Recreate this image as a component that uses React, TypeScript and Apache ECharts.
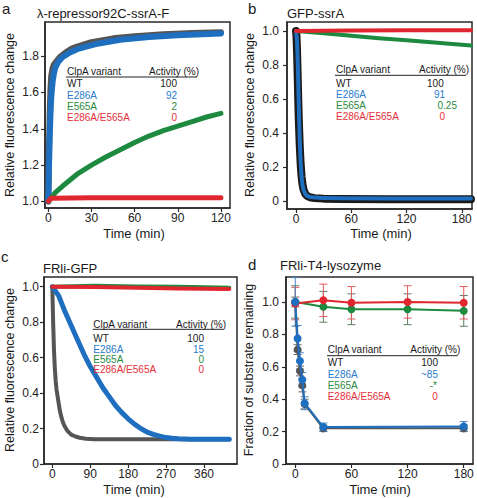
import React, { useEffect, useRef } from 'react';
import * as echarts from 'echarts';

const FONT = "'Liberation Sans', Arial, Helvetica, sans-serif";
const C_GRAY = '#555555';
const C_BLACK = '#1a1a1a';
const C_BLUE = '#1f6fc0';
const C_GREEN = '#1d8a3f';
const C_RED = '#e0262e';
const T_BLUE = '#2a7bcc';
const T_GREEN = '#2b8a3e';
const T_RED = '#e4313a';

// ---------- Panel a : λ-repressor92C-ssrA-F ----------
const aWT_t = [0, 0.5, 1, 1.5, 2, 3, 4, 6, 8, 12, 16, 20, 30, 45, 60, 80, 100, 120];
const aWT_v = [1.0, 1.3, 1.5, 1.62, 1.69, 1.735, 1.755, 1.775, 1.795, 1.82, 1.84, 1.853, 1.877, 1.898, 1.91, 1.92, 1.927, 1.932];
const aE286A_t = [0, 0.5, 1, 1.5, 2, 3, 4, 5, 7, 10, 15, 20, 25, 35, 50, 70, 90, 120];
const aE286A_v = [1.0, 1.2, 1.36, 1.48, 1.57, 1.66, 1.71, 1.74, 1.77, 1.795, 1.82, 1.838, 1.85, 1.87, 1.89, 1.905, 1.915, 1.925];
const aE565A_t = [0, 5, 10, 20, 30, 40, 50, 60, 70, 80, 90, 100, 110, 120];
const aE565A_v = [1.0, 1.05, 1.085, 1.15, 1.2, 1.245, 1.285, 1.325, 1.36, 1.39, 1.415, 1.44, 1.465, 1.485];
const aDbl_t = [0, 2, 30, 60, 90, 120];
const aDbl_v = [1.0, 1.018, 1.02, 1.02, 1.02, 1.02];
const aActivity = ['100', '92', '2', '0'];

// ---------- Panel b : GFP-ssrA ----------
const bWT_t = [0, 0.5, 1, 1.5, 2, 2.5, 3, 4, 5, 6, 7, 8, 10, 12, 15, 20, 30, 50, 100, 190];
const bWT_v = [1.0, 0.97, 0.9, 0.8, 0.69, 0.58, 0.48, 0.33, 0.22, 0.145, 0.1, 0.07, 0.042, 0.03, 0.022, 0.017, 0.014, 0.012, 0.01, 0.01];
const bE286A_t = [0, 1, 1.5, 2, 2.5, 3, 3.5, 4, 5, 6, 7, 8, 10, 12, 15, 20, 30, 50, 100, 190];
const bE286A_v = [1.0, 0.95, 0.88, 0.79, 0.68, 0.57, 0.46, 0.37, 0.23, 0.145, 0.095, 0.068, 0.042, 0.03, 0.024, 0.02, 0.018, 0.016, 0.015, 0.015];
const bE565A_t = [0, 30, 60, 90, 120, 150, 190];
const bE565A_v = [1.0, 0.987, 0.972, 0.958, 0.945, 0.932, 0.915];
const bDbl_t = [0, 60, 120, 190];
const bDbl_v = [1.0, 1.003, 1.005, 1.005];
const bActivity = ['100', '91', '0.25', '0'];

// ---------- Panel c : FRli-GFP ----------
const cWT_t = [0, 1, 2, 3, 4, 6, 8, 10, 14, 18, 22, 26, 30, 35, 40, 46, 55, 65, 80, 100, 200, 300, 420];
const cWT_v = [1.0, 0.9, 0.8, 0.72, 0.64, 0.54, 0.47, 0.42, 0.36, 0.3, 0.26, 0.23, 0.21, 0.19, 0.177, 0.164, 0.155, 0.148, 0.143, 0.14, 0.14, 0.14, 0.14];
const cE286A_t = [0, 15, 30, 45, 60, 75, 90, 105, 120, 135, 150, 165, 180, 195, 210, 225, 240, 255, 270, 285, 300, 330, 360, 420];
const cE286A_v = [1.0, 0.95, 0.86, 0.78, 0.7, 0.62, 0.55, 0.49, 0.43, 0.38, 0.33, 0.29, 0.255, 0.225, 0.2, 0.18, 0.167, 0.157, 0.149, 0.145, 0.142, 0.14, 0.14, 0.14];
const cE565A_t = [0, 100, 200, 300, 420];
const cE565A_v = [1.0, 1.005, 1.002, 1.0, 0.995];
const cDbl_t = [0, 100, 200, 300, 420];
const cDbl_v = [1.0, 0.998, 0.995, 0.99, 0.987];
const cActivity = ['100', '15', '0', '0'];

// ---------- Panel d : FRli-T4-lysozyme ----------
const dFast_t = [0, 2.5, 5, 7.5, 10, 30, 180];
const dWT_v = [1.0, 0.706, 0.574, 0.485, 0.37, 0.22, 0.22];
const dWT_e = [0.03, 0.03, 0.03, 0.04, 0.03, 0.02, 0.02];
const dE286A_v = [1.0, 0.775, 0.636, 0.52, 0.375, 0.228, 0.232];
const dE286A_e = [0.15, 0.08, 0.05, 0.045, 0.04, 0.025, 0.03];
const dSlow_t = [0, 30, 60, 120, 180];
const dE565A_v = [1.0, 0.97, 0.955, 0.955, 0.945];
const dE565A_e = [0.1, 0.095, 0.095, 0.095, 0.095];
const dDbl_v = [0.99, 1.01, 0.995, 1.0, 0.995];
const dDbl_e = [0.1, 0.1, 0.1, 0.1, 0.1];
const dActivity = ['100', '~85', '-*', '0'];

const variants = ['WT', 'E286A', 'E565A', 'E286A/E565A'];
const variantColors = [C_BLACK, T_BLUE, T_GREEN, T_RED];

const aYTicks = [1.0, 1.2, 1.4, 1.6, 1.8];
const aXTicks = [0, 30, 60, 90, 120];
const bYTicks = [0, 0.2, 0.4, 0.6, 0.8, 1.0];
const bXTicks = [0, 60, 120, 180];
const cYTicks = [0, 0.2, 0.4, 0.6, 0.8, 1.0];
const cXTicks = [0, 90, 180, 270, 360];
const dYTicks = [0, 0.2, 0.4, 0.6, 0.8, 1.0];
const dXTicks = [0, 60, 120, 180];

const pairs = (t: number[], v: number[]) => t.map((x, i) => [x, v[i]]);

function lineSeries(g: number, t: number[], v: number[], color: string, width: number, z: number) {
  return {
    type: 'line',
    xAxisIndex: g,
    yAxisIndex: g,
    data: pairs(t, v),
    showSymbol: false,
    symbol: 'none',
    smooth: false,
    lineStyle: { color, width, cap: 'round', join: 'round' },
    z,
  };
}

function pointSeries(g: number, t: number[], v: number[], color: string, z: number) {
  return {
    type: 'line',
    xAxisIndex: g,
    yAxisIndex: g,
    data: pairs(t, v),
    symbol: 'circle',
    symbolSize: 8,
    itemStyle: { color },
    lineStyle: { color, width: 2 },
    z,
  };
}

function errSeries(g: number, t: number[], v: number[], e: number[], color: string, z: number) {
  return {
    type: 'custom',
    xAxisIndex: g,
    yAxisIndex: g,
    z,
    data: t.map((x, i) => [x, v[i] - e[i], v[i] + e[i]]),
    encode: { x: 0, y: [1, 2] },
    renderItem: (params: any, api: any) => {
      const x = api.value(0);
      const p1 = api.coord([x, api.value(1)]);
      const p2 = api.coord([x, api.value(2)]);
      const w = 4;
      const st = { stroke: color, lineWidth: 1 };
      return {
        type: 'group',
        children: [
          { type: 'line', shape: { x1: p1[0], y1: p1[1], x2: p2[0], y2: p2[1] }, style: st },
          { type: 'line', shape: { x1: p1[0] - w, y1: p1[1], x2: p1[0] + w, y2: p1[1] }, style: st },
          { type: 'line', shape: { x1: p2[0] - w, y1: p2[1], x2: p2[0] + w, y2: p2[1] }, style: st },
        ],
      };
    },
  };
}

const fmtY = (v: number) => (Math.abs(v) < 1e-9 ? '0' : v.toFixed(1));

function xAxis(g: number, min: number, max: number, ticks: number[]) {
  return {
    type: 'value',
    gridIndex: g,
    min,
    max,
    splitLine: { show: false },
    axisLine: { show: true, onZero: false, lineStyle: { color: '#2a2a2a', width: 1.5 } },
    axisTick: { show: true, inside: false, length: 4, customValues: ticks, lineStyle: { color: '#2a2a2a', width: 1.2 } },
    axisLabel: { customValues: ticks, fontSize: 12, fontFamily: FONT, color: '#222', margin: 4 },
  };
}

function yAxis(g: number, min: number, max: number, ticks: number[], margin: number) {
  return {
    type: 'value',
    gridIndex: g,
    min,
    max,
    splitLine: { show: false },
    axisLine: { show: true, onZero: false, lineStyle: { color: '#2a2a2a', width: 1.5 } },
    axisTick: { show: true, inside: false, length: 4, customValues: ticks, lineStyle: { color: '#2a2a2a', width: 1.2 } },
    axisLabel: { customValues: ticks, formatter: fmtY, fontSize: 12, fontFamily: FONT, color: '#222', margin },
  };
}

function txt(x: number, y: number, text: string, opts: any = {}) {
  return {
    type: 'text',
    x,
    y,
    rotation: opts.rotation || 0,
    z: 100,
    style: {
      text,
      fill: opts.fill || '#1a1a1a',
      fontSize: opts.fontSize || 12,
      fontFamily: FONT,
      align: opts.align || 'left',
      verticalAlign: 'middle',
    },
  };
}

function table(cfg: any, vals: string[]) {
  const els: any[] = [];
  els.push(txt(cfg.x, cfg.yHead, 'ClpA variant', { fontSize: 10 }));
  els.push(txt(cfg.act, cfg.yHead, 'Activity (%)', { fontSize: 10 }));
  els.push({
    type: 'line',
    z: 100,
    shape: { x1: cfg.line[0], y1: cfg.yLine, x2: cfg.line[1], y2: cfg.yLine },
    style: { stroke: '#222', lineWidth: 1 },
  });
  variants.forEach((name, i) => {
    els.push(txt(cfg.x, cfg.rows[i], name, { fontSize: 10, fill: variantColors[i] }));
    els.push(txt(cfg.valX[i], cfg.rows[i], vals[i], { fontSize: 10, fill: variantColors[i], align: 'right' }));
  });
  return els;
}

export default function App() {
  const ref = useRef<HTMLDivElement>(null);
  useEffect(() => {
    if (!ref.current) return;
    const chart = echarts.init(ref.current, undefined, { renderer: 'svg' });
    const gridStyle = { show: true, borderColor: '#2a2a2a', borderWidth: 1.5, backgroundColor: 'transparent' };

    const graphics: any[] = [
      txt(2, 8, 'a', { fontSize: 15 }),
      txt(248, 8, 'b', { fontSize: 15 }),
      txt(1, 256, 'c', { fontSize: 15 }),
      txt(248, 264, 'd', { fontSize: 15 }),
      txt(37, 13, 'λ-repressor92C-ssrA-F', { fontSize: 13 }),
      txt(287, 13, 'GFP-ssrA', { fontSize: 13 }),
      txt(43, 268, 'FRli-GFP', { fontSize: 13 }),
      txt(280, 265, 'FRli-T4-lysozyme', { fontSize: 13 }),
      txt(10, 115, 'Relative fluorescence change', { fontSize: 12.5, align: 'center', rotation: Math.PI / 2 }),
      txt(249.5, 115, 'Relative fluorescence change', { fontSize: 12.5, align: 'center', rotation: Math.PI / 2 }),
      txt(10, 370, 'Relative fluorescence change', { fontSize: 12.5, align: 'center', rotation: Math.PI / 2 }),
      txt(249, 370, 'Fraction of substrate remaining', { fontSize: 12.5, align: 'center', rotation: Math.PI / 2 }),
      txt(134, 233, 'Time (min)', { fontSize: 13, align: 'center' }),
      txt(381, 233, 'Time (min)', { fontSize: 13, align: 'center' }),
      txt(134, 489.5, 'Time (min)', { fontSize: 13, align: 'center' }),
      txt(380, 489.5, 'Time (min)', { fontSize: 13, align: 'center' }),
      ...table({ x: 67, act: 149, line: [66, 197], yHead: 71, yLine: 77, rows: [83, 95, 106, 117], valX: [177, 177, 177, 177] }, aActivity),
      ...table({ x: 336, act: 419, line: [335, 466], yHead: 69, yLine: 75.3, rows: [83, 94, 105, 116], valX: [443.7, 445, 457, 445] }, bActivity),
      ...table({ x: 93.3, act: 176, line: [92.7, 223.3], yHead: 324, yLine: 329.3, rows: [338.3, 349.3, 359.3, 369], valX: [204, 204, 204, 204] }, cActivity),
      ...table({ x: 327.7, act: 410.3, line: [327, 457.7], yHead: 349.3, yLine: 355.7, rows: [362.3, 374, 385.3, 396.7], valX: [438, 438, 437, 437.7] }, dActivity),
    ];

    chart.setOption({
      animation: false,
      backgroundColor: '#ffffff',
      textStyle: { fontFamily: FONT },
      grid: [
        { left: 45, top: 22, width: 185, height: 186, ...gridStyle },
        { left: 287, top: 22, width: 185, height: 187, ...gridStyle },
        { left: 44, top: 277, width: 193, height: 187, ...gridStyle },
        { left: 286, top: 277, width: 187, height: 187, ...gridStyle },
      ],
      xAxis: [
        xAxis(0, -2.3, 126.3, aXTicks),
        xAxis(1, -9.8, 191.1, bXTicks),
        xAxis(2, -19.7, 438.3, cXTicks),
        xAxis(3, -9.9, 189.9, dXTicks),
      ],
      yAxis: [
        yAxis(0, 0.964, 1.988, aYTicks, 6),
        yAxis(1, -0.047, 1.053, bYTicks, 8),
        yAxis(2, 0, 1.055, cYTicks, 5),
        yAxis(3, 0, 1.154, dYTicks, 7),
      ],
      graphic: graphics,
      series: [
        // a
        lineSeries(0, aWT_t, aWT_v, C_GRAY, 6, 2),
        lineSeries(0, aE286A_t, aE286A_v, C_BLUE, 6, 3),
        lineSeries(0, aE565A_t, aE565A_v, C_GREEN, 5, 4),
        lineSeries(0, aDbl_t, aDbl_v, C_RED, 5, 5),
        // b
        lineSeries(1, bWT_t, bWT_v, C_BLACK, 8, 2),
        lineSeries(1, bE286A_t, bE286A_v, C_BLUE, 4, 3),
        lineSeries(1, bE565A_t, bE565A_v, C_GREEN, 4, 4),
        lineSeries(1, bDbl_t, bDbl_v, C_RED, 4, 5),
        // c
        lineSeries(2, cWT_t, cWT_v, C_GRAY, 4, 2),
        lineSeries(2, cE286A_t, cE286A_v, C_BLUE, 5, 3),
        lineSeries(2, cE565A_t, cE565A_v, C_GREEN, 4, 4),
        lineSeries(2, cDbl_t, cDbl_v, C_RED, 4, 5),
        // d
        errSeries(3, dSlow_t, dE565A_v, dE565A_e, '#5a7f63', 2),
        errSeries(3, dSlow_t, dDbl_v, dDbl_e, '#e45a60', 2),
        errSeries(3, dFast_t, dWT_v, dWT_e, '#666666', 2),
        errSeries(3, dFast_t, dE286A_v, dE286A_e, '#4f88c8', 2),
        pointSeries(3, dSlow_t, dE565A_v, C_GREEN, 3),
        pointSeries(3, dSlow_t, dDbl_v, C_RED, 4),
        pointSeries(3, dFast_t, dWT_v, C_GRAY, 3),
        pointSeries(3, dFast_t, dE286A_v, C_BLUE, 4),
      ],
    });
    return () => chart.dispose();
  }, []);
  return <div ref={ref} style={{ position: 'absolute', left: 0, top: 0, width: 477, height: 498 }} />;
}
